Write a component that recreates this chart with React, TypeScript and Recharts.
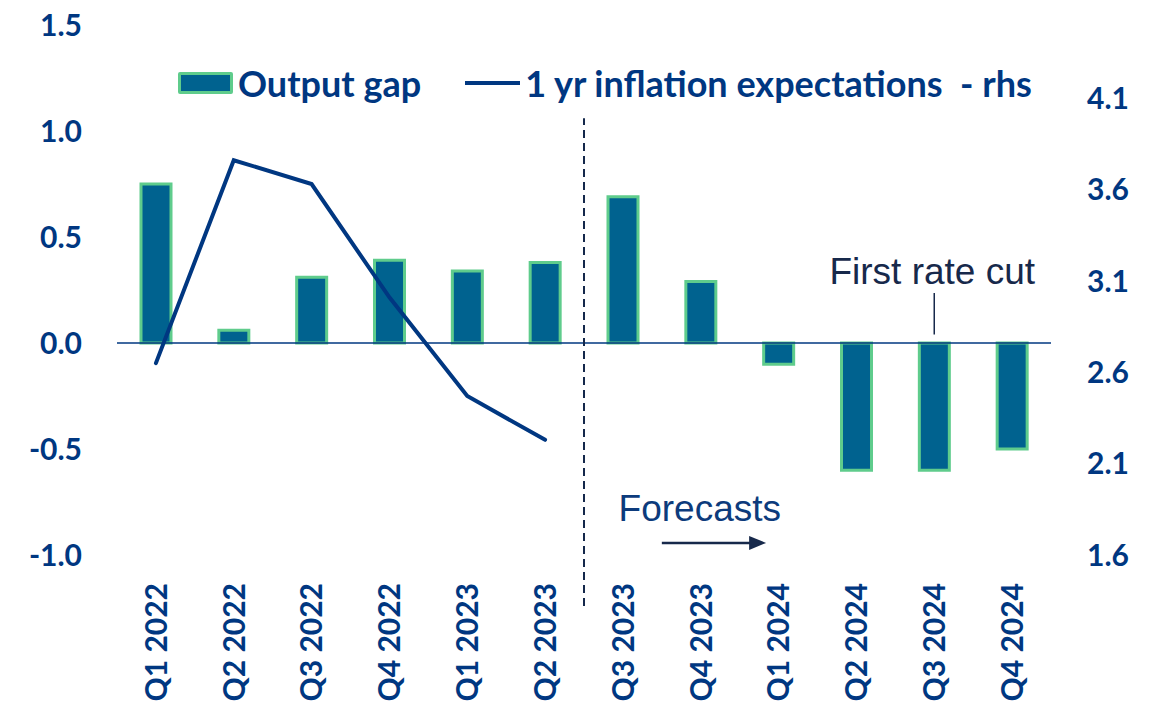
import { ComposedChart, Bar, Line, XAxis, YAxis, ReferenceLine, Legend } from "recharts";

const quarters = [
  "Q1 2022", "Q2 2022", "Q3 2022", "Q4 2022", "Q1 2023", "Q2 2023",
  "Q3 2023", "Q4 2023", "Q1 2024", "Q2 2024", "Q3 2024", "Q4 2024",
];
const outputGap = [0.75, 0.06, 0.31, 0.39, 0.34, 0.38, 0.69, 0.29, -0.1, -0.6, -0.6, -0.5];
const inflationExpectations = [2.65, 3.76, 3.63, 3.01, 2.47, 2.23, null, null, null, null, null, null];
const leftTicks = [-1, -0.5, 0, 0.5, 1, 1.5];
const rightTicks = [1.6, 2.1, 2.6, 3.1, 3.6, 4.1];

const data = quarters.map((q, i) => ({
  quarter: q,
  gap: outputGap[i],
  infl: inflationExpectations[i],
}));

const NAVY = "#003781";
const BAR_FILL = "#00628f";
const BAR_EDGE = "#5fcc8c";
const NOTE = "#17294b";
const TICK_FONT = { fill: NAVY, fontSize: 30, fontFamily: "Lato", fontWeight: 700 };

function QuarterTick({ x, y, payload }: any) {
  return (
    <text
      x={x}
      y={y}
      transform={`rotate(-90, ${x}, ${y})`}
      textAnchor="end"
      dy="0.36em"
      fill={NAVY}
      fontSize={30}
      fontFamily="Lato"
      fontWeight={700}
    >
      {payload.value}
    </text>
  );
}

function LegendContent() {
  const text = { color: NAVY, fontFamily: "Lato", fontWeight: 700, fontSize: 36, lineHeight: "36px", whiteSpace: "pre" as const };
  return (
    <div style={{ display: "flex", alignItems: "center" }}>
      <div
        style={{
          width: 55,
          height: 22,
          boxSizing: "border-box",
          border: `3px solid ${BAR_EDGE}`,
          background: BAR_FILL,
          borderRadius: 2,
          marginRight: 5,
        }}
      />
      <span style={text}>Output gap</span>
      <div style={{ width: 55, height: 4, background: NAVY, marginLeft: 44, marginRight: 5 }} />
      <span style={text}>1 yr inflation expectations  - rhs</span>
    </div>
  );
}

// arrow drawn from the start of Q4 2023 to about a third into Q1 2024
function Arrow({ x1, y1, x2 }: any) {
  const tip = x1 + (x2 - x1) * 1.34;
  return (
    <g>
      <line x1={x1} y1={y1} x2={tip - 14} y2={y1} stroke={NOTE} strokeWidth={2.5} />
      <polygon points={`${tip},${y1} ${tip - 17},${y1 - 7} ${tip - 17},${y1 + 7}`} fill={NOTE} />
    </g>
  );
}

export default function App() {
  return (
    <div style={{ position: "absolute", left: 0, top: 0 }}>
      <ComposedChart
        width={1160}
        height={721}
        data={data}
        margin={{ top: 25, right: 0, bottom: 0, left: 0 }}
      >
        <XAxis
          dataKey="quarter"
          interval={0}
          axisLine={false}
          tickLine={false}
          tickSize={0}
          tickMargin={28}
          height={166}
          tick={<QuarterTick />}
        />
        <YAxis
          yAxisId="left"
          domain={[-1, 1.5]}
          ticks={leftTicks}
          tickFormatter={(v: number) => v.toFixed(1)}
          axisLine={false}
          tickLine={false}
          tickSize={0}
          tickMargin={35}
          width={117}
          tick={TICK_FONT}
        />
        <YAxis
          yAxisId="right"
          orientation="right"
          domain={[1.6, 4.5]}
          ticks={rightTicks}
          tickFormatter={(v: number) => v.toFixed(1)}
          axisLine={false}
          tickLine={false}
          tickSize={0}
          tickMargin={36}
          width={109}
          tick={TICK_FONT}
        />
        <Legend
          verticalAlign="middle"
          align="center"
          layout="horizontal"
          wrapperStyle={{ left: 178, top: 65, width: "auto" }}
          content={<LegendContent />}
        />
        <ReferenceLine yAxisId="left" y={0} stroke={NAVY} strokeWidth={1.5} />
        <Bar
          yAxisId="left"
          dataKey="gap"
          barSize={30}
          fill={BAR_FILL}
          stroke={BAR_EDGE}
          strokeWidth={3}
          isAnimationActive={false}
        />
        <Line
          yAxisId="right"
          dataKey="infl"
          stroke={NAVY}
          strokeWidth={4}
          strokeLinecap="round"
          dot={false}
          activeDot={false}
          isAnimationActive={false}
        />
        {/* forecast divider, between Q2 2023 and Q3 2023 */}
        <ReferenceLine
          yAxisId="left"
          position="end"
          segment={[{ x: "Q2 2023", y: -1.24 }, { x: "Q2 2023", y: 1.06 }]}
          ifOverflow="visible"
          stroke="#14284b"
          strokeWidth={2}
          strokeDasharray="8 5"
        />
        <ReferenceLine
          yAxisId="left"
          segment={[{ x: "Q3 2024", y: 0.04 }, { x: "Q3 2024", y: 0.236 }]}
          ifOverflow="visible"
          stroke={NOTE}
          strokeWidth={1.5}
          label={({ viewBox }: any) => (
            <text
              x={viewBox.x - 2}
              y={viewBox.y - 9}
              textAnchor="middle"
              fill={NOTE}
              fontSize={37}
              fontFamily="Liberation Sans"
            >
              First rate cut
            </text>
          )}
        />
        <ReferenceLine
          yAxisId="left"
          position="start"
          segment={[{ x: "Q4 2023", y: -0.943 }, { x: "Q1 2024", y: -0.943 }]}
          ifOverflow="visible"
          shape={<Arrow />}
          label={({ viewBox }: any) => (
            <text
              x={viewBox.x + 38}
              y={viewBox.y - 22}
              textAnchor="middle"
              fill="#0d3b7c"
              fontSize={37}
              fontFamily="Liberation Sans"
            >
              Forecasts
            </text>
          )}
        />
      </ComposedChart>
    </div>
  );
}
